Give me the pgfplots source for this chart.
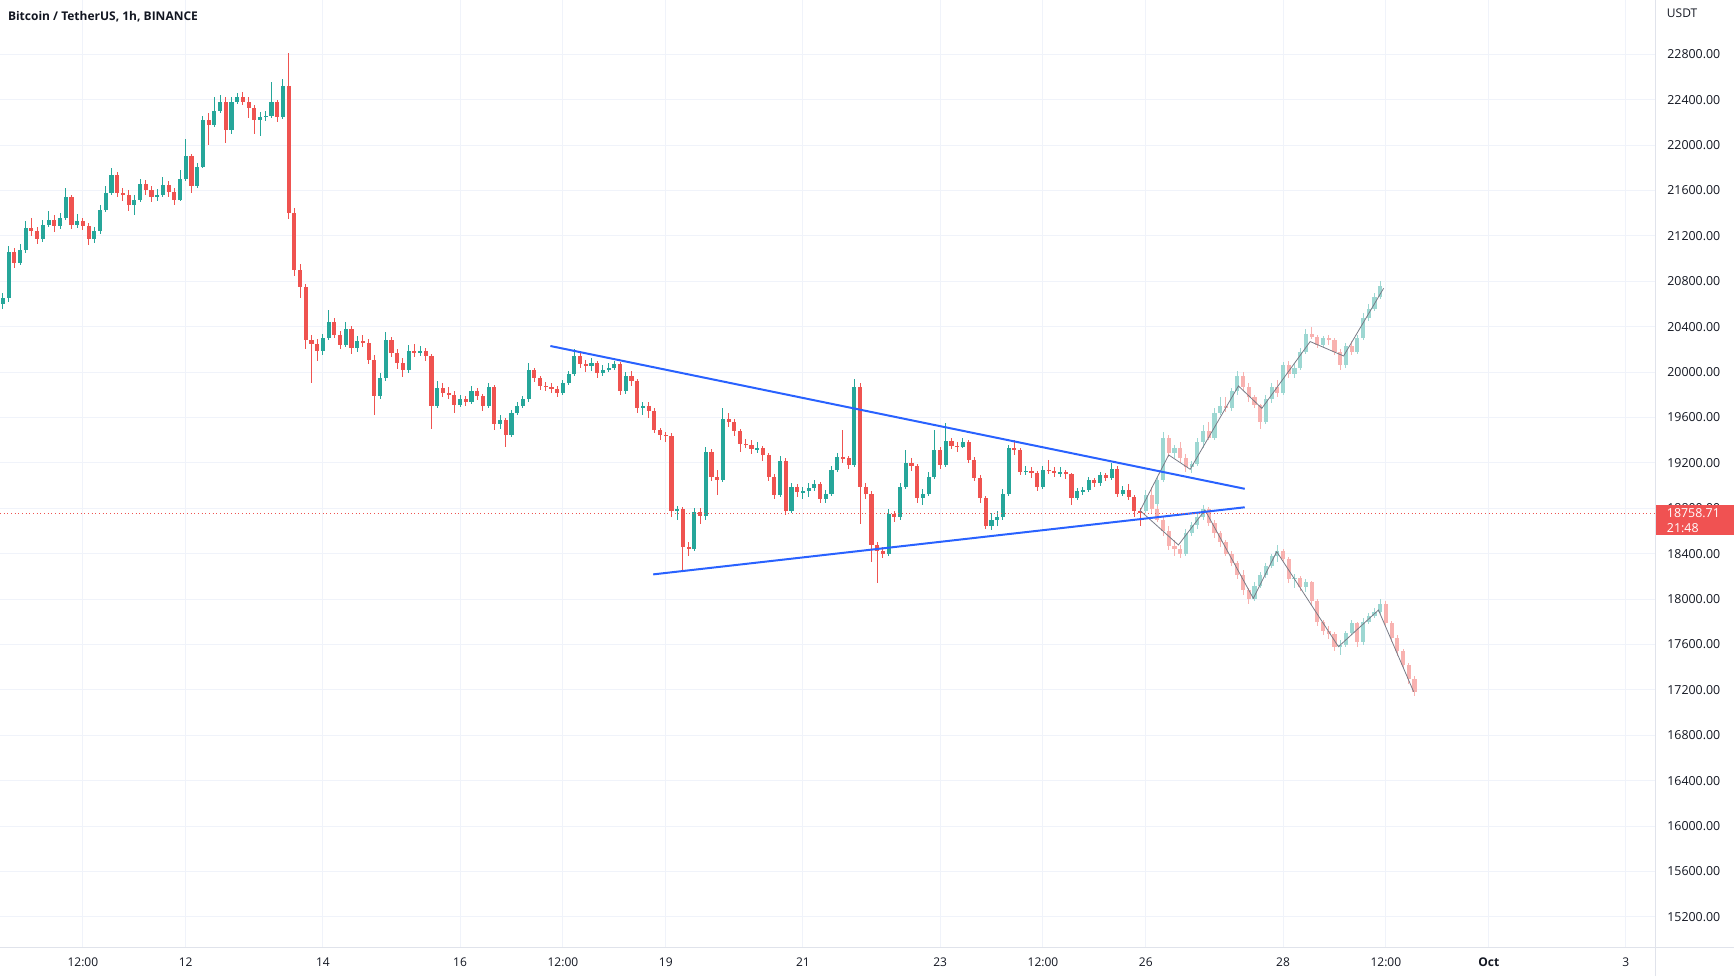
\documentclass[border=0pt]{standalone}
\usepackage{fontspec}
\setmainfont{Open Sans}
\usepackage{pgfplots}
\usepackage{pgfplotstable}
\pgfplotsset{compat=1.18}
\definecolor{upc}{HTML}{26A69A}
\definecolor{dnc}{HTML}{EF5350}
\colorlet{upf}{upc!45!white}
\colorlet{dnf}{dnc!45!white}
\definecolor{trend}{HTML}{2962FF}
\definecolor{gridc}{HTML}{F0F3FA}
\definecolor{sepc}{HTML}{E0E3EB}
\definecolor{textc}{HTML}{131722}
\definecolor{projline}{HTML}{787B86}
\definecolor{pricebox}{HTML}{F05252}

\pgfplotstableread{
t o h l c
-64 20600 20700 20560 20650
-62 20650 21110 20620 21060
-60 21060 21090 20920 20960
-58 20960 21130 20940 21080
-56 21080 21330 21050 21270
-54 21270 21360 21200 21240
-52 21240 21280 21130 21170
-50 21170 21340 21150 21300
-48 21300 21420 21280 21340
-46 21340 21380 21230 21290
-44 21290 21400 21260 21360
-42 21360 21620 21340 21540
-40 21540 21560 21260 21300
-38 21300 21390 21270 21330
-36 21330 21360 21250 21290
-34 21290 21310 21120 21170
-32 21170 21280 21140 21240
-30 21240 21470 21220 21430
-28 21430 21640 21410 21580
-26 21580 21800 21560 21740
-24 21740 21760 21540 21580
-22 21580 21620 21510 21560
-20 21560 21600 21420 21470
-18 21470 21560 21380 21520
-16 21520 21700 21500 21660
-14 21660 21690 21560 21600
-12 21600 21640 21500 21540
-10 21540 21610 21510 21560
-8 21560 21720 21540 21650
-6 21650 21680 21540 21590
-4 21590 21620 21470 21520
-2 21520 21780 21510 21700
0 21700 22050 21680 21900
2 21900 21920 21580 21640
4 21640 21840 21620 21810
6 21810 22260 21800 22220
8 22220 22280 22000 22180
10 22180 22420 22160 22300
12 22300 22440 22280 22380
14 22380 22420 22020 22130
16 22130 22420 22100 22380
18 22380 22460 22360 22420
20 22420 22470 22350 22380
22 22380 22420 22240 22330
24 22330 22350 22100 22220
26 22220 22290 22080 22250
28 22250 22300 22210 22260
30 22260 22560 22240 22380
32 22380 22400 22200 22250
34 22250 22580 22230 22520
36 22520 22810 21350 21400
38 21400 21450 20850 20900
40 20900 20950 20650 20750
42 20750 20780 20200 20280
44 20280 20330 19900 20250
46 20250 20290 20100 20190
48 20190 20340 20150 20300
50 20300 20550 20280 20440
52 20440 20480 20300 20330
54 20330 20360 20200 20240
56 20240 20440 20220 20380
58 20380 20410 20160 20210
60 20210 20320 20180 20270
62 20270 20330 20220 20260
64 20260 20290 20070 20110
66 20110 20150 19620 19790
68 19790 19990 19760 19950
70 19950 20350 19920 20280
72 20280 20310 20130 20170
74 20170 20200 20030 20080
76 20080 20120 19960 20020
78 20020 20240 19990 20190
80 20190 20250 20130 20170
82 20170 20230 20140 20190
84 20190 20210 20100 20140
86 20140 20160 19500 19700
88 19700 19920 19680 19860
90 19860 19900 19780 19820
92 19820 19870 19760 19800
94 19800 19830 19640 19710
96 19710 19800 19690 19760
98 19760 19790 19700 19740
100 19740 19880 19720 19830
102 19830 19860 19750 19790
104 19790 19810 19660 19700
106 19700 19900 19680 19870
108 19870 19890 19490 19540
110 19540 19620 19500 19580
112 19580 19600 19340 19450
114 19450 19670 19430 19640
116 19640 19740 19620 19700
118 19700 19790 19680 19760
120 19760 20080 19740 20020
122 20020 20040 19910 19950
124 19950 19970 19840 19880
126 19880 19910 19830 19870
128 19870 19900 19820 19850
130 19850 19880 19780 19815
132 19815 19930 19800 19900
134 19900 20010 19890 19980
136 19980 20200 19970 20140
138 20140 20170 20040 20070
140 20070 20110 20000 20050
142 20050 20120 20010 20080
144 20080 20100 19950 19990
146 19990 20060 19970 20020
148 20020 20080 20000 20040
150 20040 20100 20020 20070
152 20070 20090 19800 19830
154 19830 20000 19810 19970
156 19970 20010 19880 19920
158 19920 19940 19640 19680
160 19680 19740 19620 19700
162 19700 19740 19600 19660
164 19660 19680 19460 19490
166 19490 19510 19400 19450
168 19450 19470 19380 19440
170 19440 19460 18720 18780
172 18780 18820 18700 18790
174 18790 18810 18250 18460
176 18460 18500 18380 18440
178 18440 18800 18420 18770
180 18770 18800 18660 18730
182 18730 19340 18700 19300
184 19300 19320 19040 19080
186 19080 19140 18920 19050
188 19050 19680 19030 19590
190 19590 19640 19520 19560
192 19560 19590 19440 19480
194 19480 19500 19300 19370
196 19370 19410 19330 19360
198 19360 19400 19280 19320
200 19320 19380 19290 19330
202 19330 19350 19220 19270
204 19270 19290 19040 19080
206 19080 19100 18880 18920
208 18920 19260 18900 19220
210 19220 19240 18740 18780
212 18780 19020 18760 18990
214 18990 19010 18900 18940
216 18940 18990 18880 18950
218 18950 19020 18900 18980
220 18980 19050 18950 19010
222 19010 19030 18850 18880
224 18880 18960 18850 18930
226 18930 19170 18910 19140
228 19140 19290 19120 19250
230 19250 19490 19200 19240
232 19240 19260 19150 19180
234 19180 19940 19160 19870
236 19870 19900 18660 18990
238 18990 19020 18880 18930
240 18930 18950 18330 18480
242 18480 18500 18140 18420
244 18420 18460 18360 18400
246 18400 18790 18380 18750
248 18750 18780 18680 18720
250 18720 19020 18700 18990
252 18990 19310 18970 19200
254 19200 19240 19130 19170
256 19170 19190 18850 18890
258 18890 18970 18830 18930
260 18930 19120 18910 19080
262 19080 19490 19060 19310
264 19310 19340 19150 19180
266 19180 19550 19160 19390
268 19390 19420 19320 19350
270 19350 19380 19300 19340
272 19340 19420 19330 19380
274 19380 19400 19200 19230
276 19230 19250 19040 19070
278 19070 19090 18850 18890
280 18890 18910 18620 18640
282 18640 18760 18610 18700
284 18700 18780 18640 18720
286 18720 18970 18700 18930
288 18930 19360 18910 19330
290 19330 19400 19270 19310
292 19310 19330 19090 19120
294 19120 19170 19090 19130
296 19130 19160 19070 19110
298 19110 19130 18950 18990
300 18990 19170 18970 19140
302 19140 19230 19100 19130
304 19130 19160 19080 19110
306 19110 19160 19080 19120
308 19120 19140 19060 19100
310 19100 19110 18830 18890
312 18890 18980 18870 18950
314 18950 18990 18920 18960
316 18960 19080 18940 19050
318 19050 19070 18990 19020
320 19020 19120 19000 19090
322 19090 19110 19040 19070
324 19070 19200 19050 19150
326 19150 19170 18900 18930
328 18930 19000 18910 18960
330 18960 19010 18870 18900
332 18900 18920 18720 18780
334 18780 18800 18640 18759
}\real

\pgfplotstableread{
t o h l c
336 18780 18960 18770 18920
338 18920 18990 18800 18840
340 18840 19080 18820 19050
342 19050 19470 19030 19420
344 19420 19450 19250 19290
346 19290 19360 19240 19330
348 19330 19380 19200 19240
350 19240 19280 19120 19160
352 19160 19220 19110 19190
354 19190 19420 19170 19380
356 19380 19530 19330 19480
358 19480 19560 19400 19420
360 19420 19680 19400 19640
362 19640 19780 19620 19700
364 19700 19780 19650 19680
366 19680 19860 19660 19830
368 19830 20010 19800 19970
370 19970 20000 19840 19870
372 19870 19900 19740 19780
374 19780 19800 19680 19710
376 19710 19720 19500 19560
378 19560 19800 19540 19760
380 19760 19900 19730 19870
382 19870 19930 19780 19820
384 19820 20090 19800 20060
386 20060 20100 19950 19980
388 19980 20070 19950 20040
390 20040 20210 20020 20180
392 20180 20380 20160 20340
394 20340 20400 20290 20310
396 20310 20330 20210 20240
398 20240 20320 20220 20300
400 20300 20330 20240 20280
402 20280 20300 20150 20180
404 20180 20200 20020 20060
406 20060 20260 20040 20230
408 20230 20270 20150 20180
410 20180 20330 20160 20300
412 20300 20520 20280 20480
414 20480 20600 20450 20560
416 20560 20700 20540 20660
418 20660 20800 20640 20760
}\projup

\pgfplotstableread{
t o h l c
336 18780 18900 18760 18860
338 18860 18910 18760 18790
340 18790 18820 18680 18700
342 18700 18730 18560 18600
344 18600 18640 18430 18470
346 18470 18520 18380 18440
348 18440 18480 18360 18400
350 18400 18620 18380 18580
352 18580 18680 18560 18650
354 18650 18760 18620 18720
356 18720 18830 18700 18790
358 18790 18810 18640 18670
360 18670 18700 18540 18580
362 18580 18600 18460 18500
364 18500 18520 18380 18400
366 18400 18420 18290 18320
368 18320 18340 18180 18210
370 18210 18260 18040 18080
372 18080 18100 17960 18000
374 18000 18150 17980 18120
376 18120 18240 18100 18210
378 18210 18320 18190 18290
380 18290 18400 18270 18380
382 18380 18480 18330 18420
384 18420 18440 18320 18350
386 18350 18370 18140 18180
388 18180 18220 18100 18190
390 18190 18200 18070 18110
392 18110 18180 18060 18150
394 18150 18160 17950 17980
396 17980 18000 17760 17800
398 17800 17820 17680 17720
400 17720 17760 17650 17690
402 17690 17710 17540 17580
404 17580 17640 17510 17600
406 17600 17720 17580 17700
408 17700 17820 17680 17790
410 17790 17800 17580 17620
412 17620 17830 17600 17800
414 17800 17880 17780 17850
416 17850 17920 17830 17890
418 17890 18000 17870 17960
420 17960 17980 17760 17790
422 17790 17810 17620 17660
424 17660 17680 17500 17540
426 17540 17560 17390 17420
428 17420 17440 17250 17300
430 17300 17320 17150 17180
}\projdn

\pgfplotsset{
  cwick/.style={draw=none, fill=none, mark=none, forget plot,
    error bars/.cd, y dir=both, y explicit, error mark=none,
    error bar style={draw=#1, line width=0.75pt, solid}},
  cbody/.style={draw=none, fill=none, mark=none, forget plot,
    error bars/.cd, y dir=both, y explicit, error mark=none,
    error bar style={draw=#1, line width=3.1pt, solid}},
}
\newcommand{\candles}[3]{%
  \addplot[cwick=#2] table[x=t, y expr={\thisrow{c}>=\thisrow{o} ? 0.5*(\thisrow{h}+\thisrow{l}) : nan}, y error expr={0.5*(\thisrow{h}-\thisrow{l})}] {#1};
  \addplot[cwick=#3] table[x=t, y expr={\thisrow{c}<\thisrow{o} ? 0.5*(\thisrow{h}+\thisrow{l}) : nan}, y error expr={0.5*(\thisrow{h}-\thisrow{l})}] {#1};
  \addplot[cbody=#2] table[x=t, y expr={\thisrow{c}>=\thisrow{o} ? 0.5*(\thisrow{o}+\thisrow{c}) : nan}, y error expr={0.5*abs(\thisrow{c}-\thisrow{o})}] {#1};
  \addplot[cbody=#3] table[x=t, y expr={\thisrow{c}<\thisrow{o} ? 0.5*(\thisrow{o}+\thisrow{c}) : nan}, y error expr={0.5*abs(\thisrow{c}-\thisrow{o})}] {#1};
}

\begin{document}
\begin{tikzpicture}
\path[use as bounding box] (0pt,-21.375pt) rectangle (1300.5pt,710.625pt);
\fill[white] (0pt,-21.375pt) rectangle (1300.5pt,710.625pt);
\begin{axis}[
  at={(0pt,0pt)}, anchor=south west,
  scale only axis, width=1241.25pt, height=710.625pt,
  xmin=-65, xmax=514.2, ymin=14931, ymax=23278,
  axis line style={draw=none},
  major tick length=0pt,
  grid=major, major grid style={color=gridc, line width=0.75pt},
  xtick={-36,0,48,96,132,168,216,264,300,336,384,420,456,504},
  xticklabels={12:00,12,14,16,12:00,19,21,23,12:00,26,28,12:00,\textbf{Oct},3},
  xticklabel style={anchor=base, yshift=-14.6pt, font=\fontsize{9}{10}\selectfont, text=textc},
  ytick={15200,15600,...,22800},
  scaled y ticks=false,
  yticklabel pos=right,
  yticklabel style={anchor=west, inner sep=0pt, xshift=9pt, font=\fontsize{9.3}{10}\selectfont, text=textc,
    /pgf/number format/.cd, fixed, fixed zerofill, precision=2, 1000 sep={}, assume math mode=true},
]
\candles{\real}{upc}{dnc}
\candles{\projup}{upf}{dnf}
\candles{\projdn}{upf}{dnf}
\addplot[projline, line width=0.6pt, forget plot] coordinates {(334,18780) (344,19270) (351.5,19144) (368.4,19878) (376.6,19681) (393.5,20269) (405.2,20142) (419.2,20738)};
\addplot[projline, line width=0.6pt, forget plot] coordinates {(334,18780) (347.4,18477) (356.7,18785) (373.6,18007) (381.8,18418) (403.4,17581) (417.4,17904) (429.7,17185)};
\addplot[trend, line width=1.5pt, forget plot] coordinates {(127.6,20230) (370.6,18972)};
\addplot[trend, line width=1.5pt, forget plot] coordinates {(163.6,18218) (370.6,18809)};
\addplot[dnc, line width=0.75pt, dotted, forget plot] coordinates {(-65,18758.71) (514.2,18758.71)};
\end{axis}
\draw[sepc, line width=0.75pt] (0pt,0pt) -- (1300.5pt,0pt);
\draw[sepc, line width=0.75pt] (1241.25pt,-21.375pt) -- (1241.25pt,710.625pt);
\node[anchor=base west, inner sep=0pt, text=textc, font=\fontsize{9}{11}\selectfont\bfseries] at (5.8pt,695.1pt) {Bitcoin / TetherUS, 1h, BINANCE};
\node[anchor=base west, inner sep=0pt, text=textc, font=\fontsize{9}{10}\selectfont] at (1250pt,697.5pt) {USDT};
\fill[pricebox] (1242pt,309.4pt) rectangle (1300.5pt,331.9pt);
\node[anchor=west, inner sep=0pt, text=white, font=\fontsize{9.3}{10}\selectfont] at (1250pt,325.6pt) {18758.71};
\node[anchor=west, inner sep=0pt, text=white, font=\fontsize{9.3}{10}\selectfont] at (1250pt,314.9pt) {21:48};
\end{tikzpicture}
\end{document}
